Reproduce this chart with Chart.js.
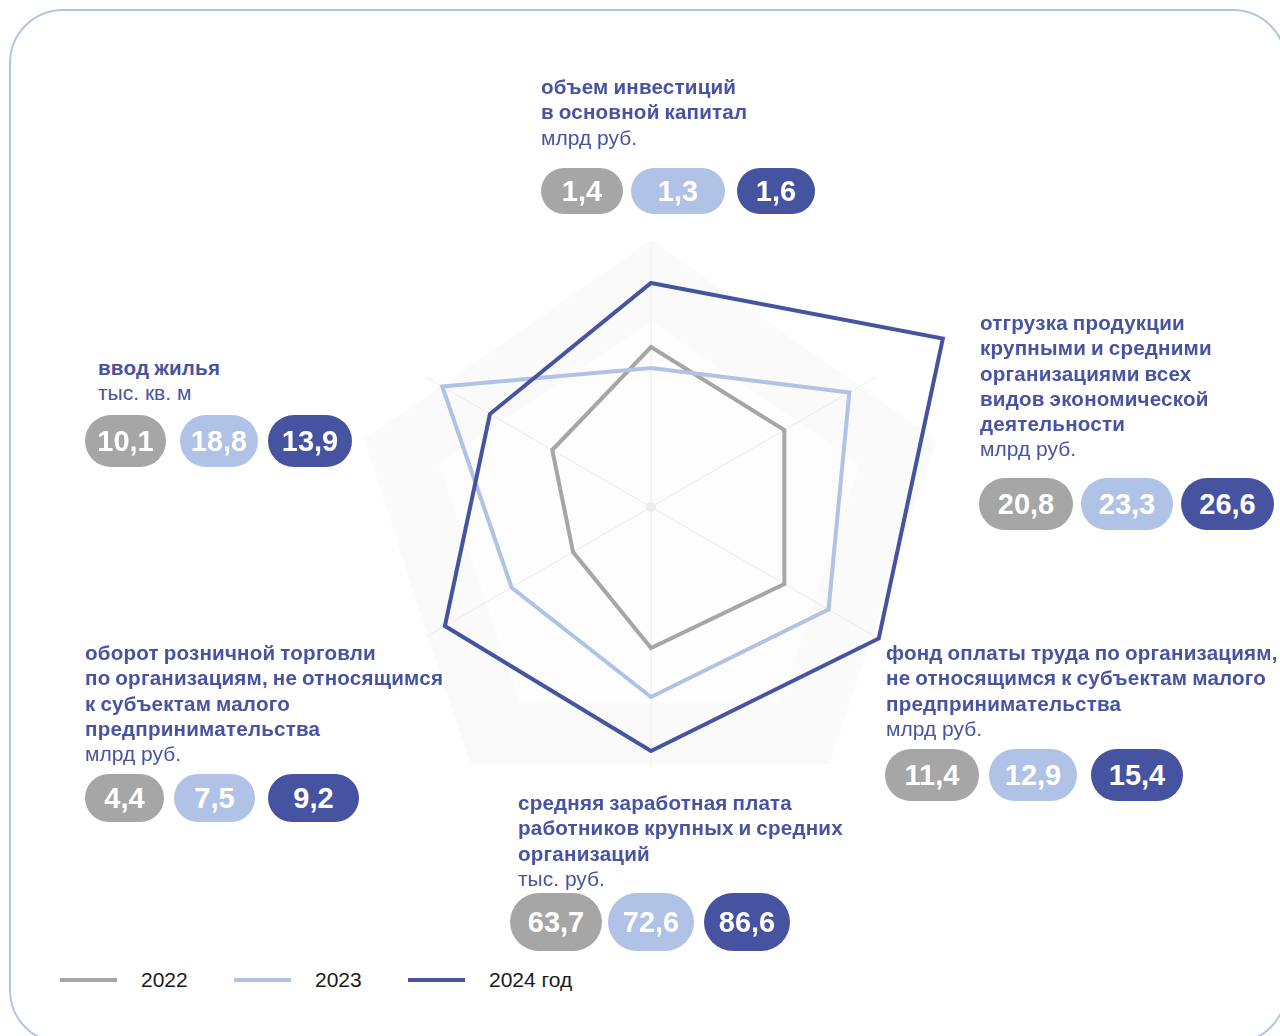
<!DOCTYPE html>
<html lang="ru">
<head>
<meta charset="utf-8">
<script src="https://cdn.jsdelivr.net/npm/chart.js@4.4.1/dist/chart.umd.min.js"></script>
<style>
  html, body { margin: 0; padding: 0; background: #fff; }
  body { width: 1280px; height: 1036px; position: relative; overflow: hidden;
         font-family: "Liberation Sans", Arial, sans-serif; }
  .frame { position: absolute; left: 9px; top: 9px; width: 1278px; height: 1035px;
           border: 2.5px solid #b3c3e7; border-radius: 54px; box-sizing: border-box; }
  #radar { position: absolute; left: 251px; top: 107px; }
  .label { position: absolute; color: #4853a1; font-size: 21px; line-height: 25.3px; white-space: nowrap; }
  .label b { font-weight: bold; display: block; font-size: 20.6px; letter-spacing: 0.2px; word-spacing: -1px; }
  .label span { display: block; }
  .badge { position: absolute; border-radius: 30px; color: #fff; font-weight: bold;
           font-size: 29px; display: flex; align-items: center; justify-content: center; }
  .legend { position: absolute; top: 968px; left: 0; font-size: 21px; color: #1a1a1a; }
  .legend .ln { position: absolute; top: 10px; width: 57px; height: 4px; }
  .legend .tx { position: absolute; top: 0; line-height: 24px; white-space: nowrap; }
</style>
</head>
<body>
<div class="frame"></div>
<canvas id="radar" width="800" height="800"></canvas>
<div id="labels"></div>
<div class="legend" id="legend"></div>

<script>
// axes, clockwise from the top
const categories = [
    ['объем инвестиций', 'в основной капитал'],
    ['отгрузка продукции', 'крупными и средними', 'организациями всех', 'видов экономической', 'деятельности'],
    ['фонд оплаты труда по организациям,', 'не относящимся к субъектам малого', 'предпринимательства'],
    ['средняя заработная плата', 'работников крупных и средних', 'организаций'],
    ['оборот розничной торговли', 'по организациям, не относящимся', 'к субъектам малого', 'предпринимательства'],
    ['ввод жилья']
];
const units = ['млрд руб.', 'млрд руб.', 'млрд руб.', 'тыс. руб.', 'млрд руб.', 'тыс. кв. м'];

const years = ['2022', '2023', '2024 год'];
const values2022 = [1.4, 20.8, 11.4, 63.7, 4.4, 10.1];
const values2023 = [1.3, 23.3, 12.9, 72.6, 7.5, 18.8];
const values2024 = [1.6, 26.6, 15.4, 86.6, 9.2, 13.9];

// distance of each vertex from the centre as drawn in the picture (scale 0..260)
const radius2022 = [160, 154, 154, 141, 90, 114];
const radius2023 = [139, 229, 205, 190, 161, 241];
const radius2024 = [224, 337, 263, 244, 238, 186];

const colors = ['#a6a6a6', '#b0c2e5', '#4653a0'];

// where each label block and its badges sit
const placement = [
    { x: 541, y: 74, by: 168, bh: 46, bx: [541, 631, 737], bw: [82, 94, 78] },
    { x: 980, y: 310, by: 478, bh: 52, bx: [979, 1081, 1181], bw: [94, 92, 93] },
    { x: 886, y: 640, by: 749, bh: 52, bx: [885, 989, 1091], bw: [94, 88, 92] },
    { x: 518, y: 790, by: 893, bh: 58, bx: [510, 608, 704], bw: [92, 86, 86] },
    { x: 85, y: 640, by: 774, bh: 48, bx: [85, 174, 268], bw: [79, 81, 91] },
    { x: 98, y: 355, by: 415, bh: 52, bx: [85, 180, 268], bw: [81, 78, 84] }
];

const fmt = v => v.toFixed(1).replace('.', ',');

const labelsEl = document.getElementById('labels');
categories.forEach((lines, i) => {
    const p = placement[i];
    const div = document.createElement('div');
    div.className = 'label';
    div.style.left = p.x + 'px';
    div.style.top = p.y + 'px';
    div.innerHTML = lines.map(l => '<b>' + l + '</b>').join('') + '<span>' + units[i] + '</span>';
    labelsEl.appendChild(div);

    [values2022, values2023, values2024].forEach((vals, k) => {
        const b = document.createElement('div');
        b.className = 'badge';
        b.style.left = p.bx[k] + 'px';
        b.style.top = p.by + 'px';
        b.style.width = p.bw[k] + 'px';
        b.style.height = p.bh + 'px';
        b.style.background = colors[k];
        b.textContent = fmt(vals[i]);
        labelsEl.appendChild(b);
    });
});

const legendEl = document.getElementById('legend');
const legendX = [60, 234, 408];
years.forEach((y, k) => {
    const ln = document.createElement('div');
    ln.className = 'ln';
    ln.style.left = legendX[k] + 'px';
    ln.style.background = colors[k];
    legendEl.appendChild(ln);
    const tx = document.createElement('div');
    tx.className = 'tx';
    tx.style.left = (legendX[k] + 81) + 'px';
    tx.textContent = y;
    legendEl.appendChild(tx);
});

// faint pentagons behind the radar and the centre dot
const backdrop = {
    id: 'backdrop',
    beforeDraw(chart) {
        const r = chart.scales.r;
        const ctx = chart.ctx;
        const cx = r.xCenter, cy = r.yCenter;
        const shapes = [
            { fill: '#fafafa', pts: [[0, -267], [286, -67], [179, 257], [-181, 257], [-287, -67]] },
            { fill: '#fdfdfd', pts: [[0, -186], [209, -43], [130, 196], [-131, 196], [-212, -43]] }
        ];
        ctx.save();
        shapes.forEach(s => {
            ctx.beginPath();
            s.pts.forEach(([dx, dy], j) => j ? ctx.lineTo(cx + dx, cy + dy) : ctx.moveTo(cx + dx, cy + dy));
            ctx.closePath();
            ctx.fillStyle = s.fill;
            ctx.fill();
        });
        ctx.restore();
    },
    beforeDatasetsDraw(chart) {
        const r = chart.scales.r;
        const ctx = chart.ctx;
        ctx.save();
        ctx.beginPath();
        ctx.arc(r.xCenter, r.yCenter, 5, 0, Math.PI * 2);
        ctx.fillStyle = '#ededed';
        ctx.fill();
        ctx.restore();
    }
};

const ctx = document.getElementById('radar').getContext('2d');
new Chart(ctx, {
    type: 'radar',
    data: {
        labels: categories.map(c => c.join(' ')),
        datasets: [
            { label: years[2], data: radius2024, borderColor: colors[2], order: 1 },
            { label: years[1], data: radius2023, borderColor: colors[1], order: 2 },
            { label: years[0], data: radius2022, borderColor: colors[0], order: 3 }
        ].map(d => Object.assign(d, {
            fill: false,
            borderWidth: 4,
            borderJoinStyle: 'miter',
            pointRadius: 0,
            pointHoverRadius: 0,
            clip: false
        }))
    },
    options: {
        responsive: false,
        animation: false,
        layout: { padding: 140 },
        plugins: {
            legend: { display: false },
            tooltip: { enabled: false }
        },
        scales: {
            r: {
                min: 0,
                max: 260,
                ticks: { display: false },
                grid: { display: false },
                pointLabels: { display: false },
                angleLines: { display: true, color: '#ececec', lineWidth: 1 }
            }
        }
    },
    plugins: [backdrop]
});
</script>
</body>
</html>
